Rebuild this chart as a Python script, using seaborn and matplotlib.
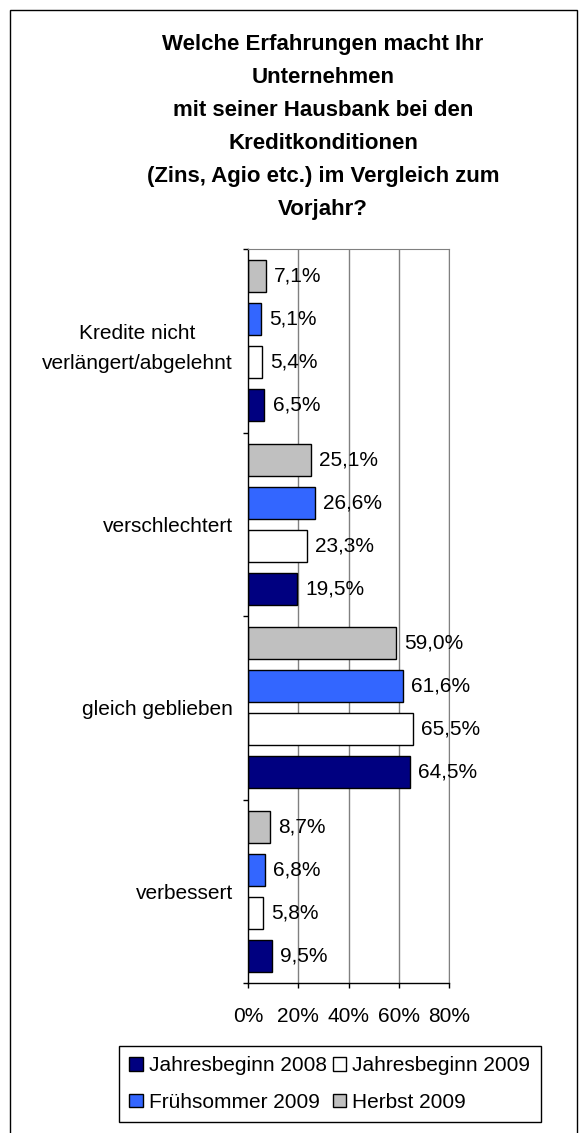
import numpy as np
import pandas as pd
import matplotlib
matplotlib.use("Agg")
import matplotlib.pyplot as plt
from matplotlib.patches import Rectangle, Patch
import seaborn as sns

# Daten
kategorien = ["Kredite nicht\nverlängert/abgelehnt", "verschlechtert",
              "gleich geblieben", "verbessert"]
herbst_2009 = [7.1, 25.1, 59.0, 8.7]
fruehsommer_2009 = [5.1, 26.6, 61.6, 6.8]
jahresbeginn_2009 = [5.4, 23.3, 65.5, 5.8]
jahresbeginn_2008 = [6.5, 19.5, 64.5, 9.5]
x_ticks = [0, 20, 40, 60, 80]

serien = {
    "Herbst 2009": herbst_2009,
    "Frühsommer 2009": fruehsommer_2009,
    "Jahresbeginn 2009": jahresbeginn_2009,
    "Jahresbeginn 2008": jahresbeginn_2008,
}
farben = {
    "Herbst 2009": "#C0C0C0",
    "Frühsommer 2009": "#3366FF",
    "Jahresbeginn 2009": "#FFFFFF",
    "Jahresbeginn 2008": "#000080",
}
hue_order = list(serien.keys())
legend_order = ["Jahresbeginn 2008", "Frühsommer 2009", "Jahresbeginn 2009", "Herbst 2009"]

df = pd.DataFrame([
    {"Kategorie": k, "Serie": s, "Wert": werte[i]}
    for s, werte in serien.items()
    for i, k in enumerate(kategorien)
])

sns.set_style("white")
plt.rcParams["font.family"] = ["Liberation Sans", "DejaVu Sans"]
plt.rcParams["text.color"] = "black"
plt.rcParams["xtick.color"] = "black"
plt.rcParams["ytick.color"] = "black"
plt.rcParams["axes.labelcolor"] = "black"

W, H = 583, 1133
fig = plt.figure(figsize=(W / 100, H / 100), dpi=100)
ax = fig.add_axes([248 / W, 1 - 983 / H, (449 - 248) / W, (983 - 249) / H])

sns.barplot(
    data=df, y="Kategorie", x="Wert", hue="Serie",
    order=kategorien, hue_order=hue_order, palette=farben, saturation=1,
    orient="h", width=0.94, gap=0.26,
    edgecolor="black", linewidth=1, legend=False, ax=ax,
)

for cont, s in zip(ax.containers, hue_order):
    labels = [f"{v:.1f}".replace(".", ",") + "%" for v in serien[s]]
    ax.bar_label(cont, labels=labels, padding=6, fontsize=15, color="black")

ax.set_xlim(0, 80)
ax.set_xticks(x_ticks)
ax.set_xticklabels([f"{t}%" for t in x_ticks])
ax.set_xlabel("")
ax.set_ylabel("")

# Kategorien-Trennstriche links
ax.set_yticks(np.arange(len(kategorien) + 1) - 0.5, minor=True)
ax.set_yticks(np.arange(len(kategorien)))
ax.set_yticklabels(kategorien, fontsize=15, ha="right", multialignment="center",
                   linespacing=1.75)
ax.tick_params(axis="y", which="major", length=0, pad=11)
ax.tick_params(axis="y", which="minor", length=3.6, width=1, direction="out", color="black", left=True)
ax.tick_params(axis="x", length=3.6, width=1, direction="out", color="black",
               labelsize=15, pad=14, bottom=True)

for t in x_ticks[1:]:
    ax.axvline(t, color="#808080", lw=1, zorder=0)

for side in ["left", "bottom"]:
    ax.spines[side].set_color("black")
    ax.spines[side].set_linewidth(1)
ax.spines["top"].set_color("#808080")
ax.spines["right"].set_color("#808080")

fig.text(323 / W, 1 - 127 / H,
         "Welche Erfahrungen macht Ihr\nUnternehmen\nmit seiner Hausbank bei den\n"
         "Kreditkonditionen\n(Zins, Agio etc.) im Vergleich zum\nVorjahr?",
         ha="center", va="center", fontsize=16, fontweight="bold", linespacing=1.74,
         color="black")

handles = [Patch(facecolor=farben[s], edgecolor="black", lw=1) for s in legend_order]
leg = fig.legend(handles, legend_order, loc="center", ncol=2,
                 bbox_to_anchor=(330 / W, 1 - 1084 / H), fontsize=15,
                 frameon=True, fancybox=False, edgecolor="black", framealpha=1,
                 handlelength=0.63, handleheight=0.63, handletextpad=0.3,
                 columnspacing=0.3, borderpad=0.5, labelspacing=0.85, borderaxespad=0)
leg.get_frame().set_linewidth(1)

fig.patches.append(Rectangle((10 / W, -0.01), (577 - 10) / W, (H - 10) / H + 0.01,
                             transform=fig.transFigure, fill=False,
                             edgecolor="black", lw=1))

fig.savefig("out.png", dpi=100, facecolor="white")
